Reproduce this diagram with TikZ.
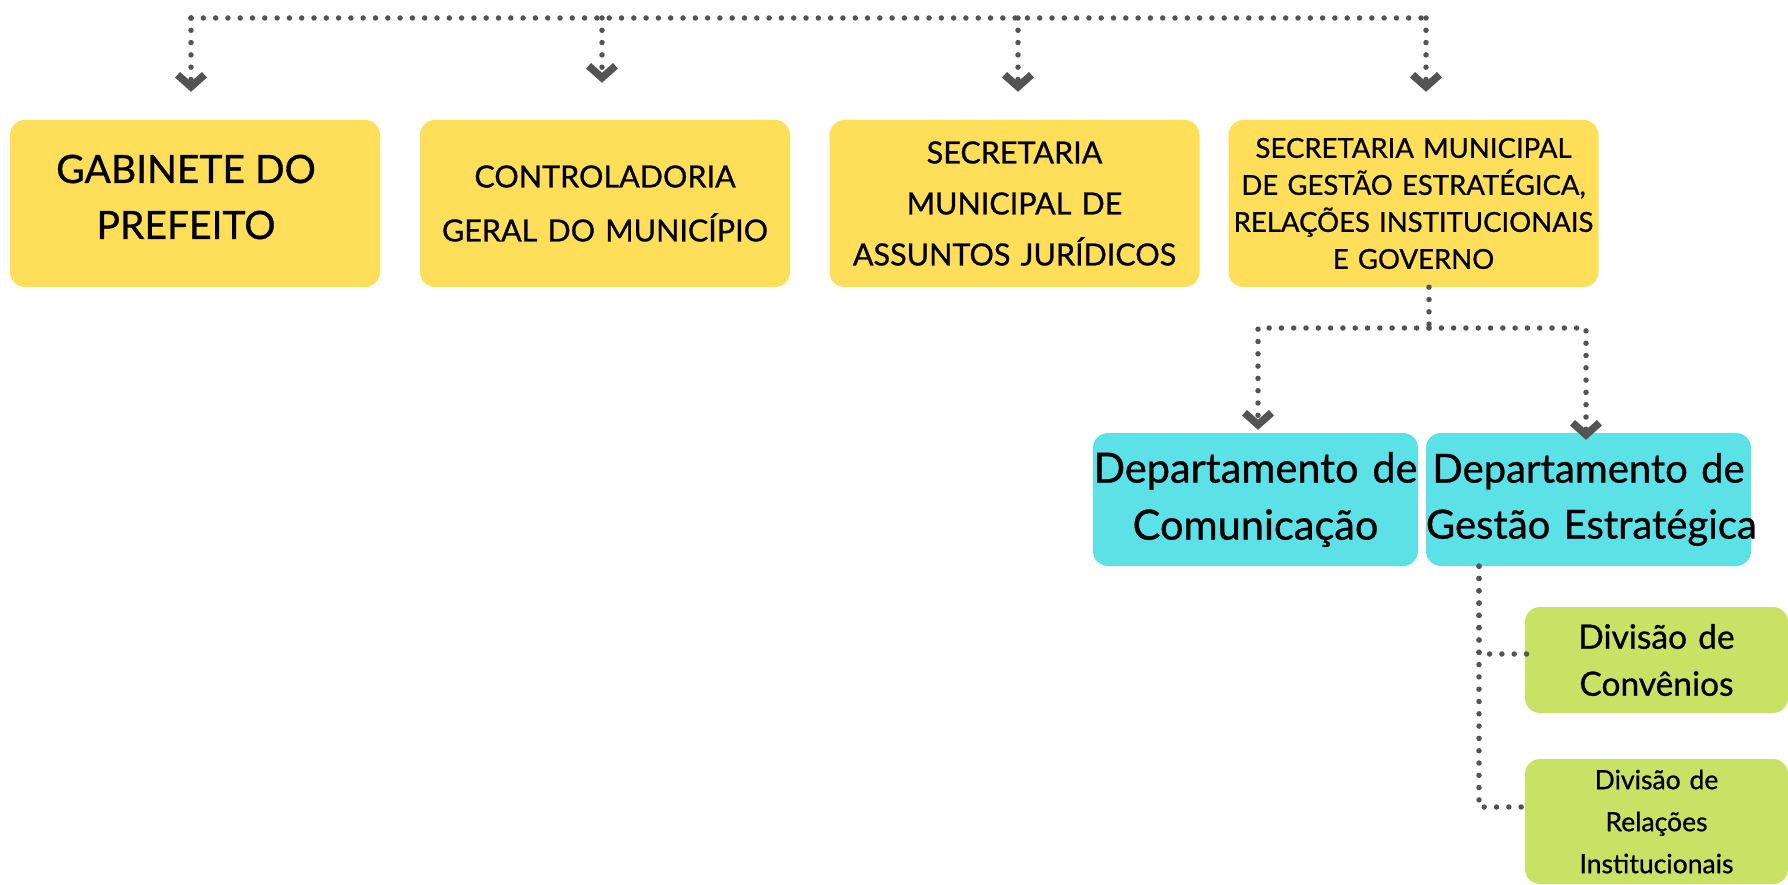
\documentclass[tikz,border=0pt]{standalone}
\usepackage{fontspec}
\setmainfont{Lato}[UprightFeatures={FakeBold=0.8}]
\usepackage{tikz}
\usetikzlibrary{positioning}
\usetikzlibrary{arrows.meta}
\definecolor{secyellow}{HTML}{FFDE59}
\definecolor{depcyan}{HTML}{5CE1E6}
\definecolor{divgreen}{HTML}{C9E265}
\definecolor{linkgray}{HTML}{545454}
\hyphenpenalty=10000

\begin{document}
\begin{tikzpicture}[x=1pt, y=-1pt]
\tikzstyle{every node}=[rounded corners=15pt, inner sep=0pt, align=center]
\tikzstyle{secbox}=[fill=secyellow, minimum width=370pt, minimum height=167pt, text width=370pt]
\tikzstyle{depbox}=[fill=depcyan, minimum width=325pt, minimum height=133pt, text width=325pt]
\tikzstyle{divbox}=[fill=divgreen, minimum width=263pt, text width=263pt]
\tikzstyle{dots}=[draw=linkgray, line width=5.5pt, line cap=round, dash pattern=on 0pt off 12.3pt]
\tikzstyle{chevron}=[-{Straight Barb[length=12pt, width=27pt, line width=7.5pt]}]
\useasboundingbox (0,0) rectangle (1788,885);

% secretarias
\node[secbox] (gab) at (195,203.5) {};
\node[font=\fontsize{39}{56}\selectfont] (gabtxt) at (186,197) {GABINETE DO\\PREFEITO};
\node[secbox, font=\fontsize{30.5}{54}\selectfont] (contr) at (605,203.5) {CONTROLADORIA\\GERAL DO MUNICÍPIO};
\node[secbox, font=\fontsize{30.5}{51}\selectfont] (juri) at (1014.5,203.5) {SECRETARIA\\MUNICIPAL DE\\ASSUNTOS JURÍDICOS};
\node[secbox, font=\fontsize{27.5}{37}\selectfont] (secg) at (1413.5,203.5) {SECRETARIA MUNICIPAL\\DE GESTÃO ESTRATÉGICA,\\RELAÇÕES INSTITUCIONAIS\\E GOVERNO};

% departamentos
\node[depbox, font=\fontsize{41.5}{57}\selectfont] (comun) at (1255.5,499.5) {Departamento de\\Comunicação};
\node[depbox, font=\fontsize{40}{56}\selectfont] (gest) at (1588.5,499.5) {Departamento de\\\mbox{Gestão Estratégica}};

% divisoes
\node[divbox, minimum height=106pt, font=\fontsize{33.5}{47}\selectfont] (conv) at (1656.5,660) {Divisão de\\Convênios};
\node[divbox, minimum height=125pt, font=\fontsize{26.5}{42}\selectfont] (rel) at (1656.5,821.5) {Divisão de\\Relações\\Institucionais};

% ligacoes do topo
\coordinate (bus) at (0,18);
\draw[dots] ([xshift=-4pt]gab.north |- bus) -- ([xshift=12.5pt]secg.north |- bus);
\draw[dots, chevron, shorten >=28pt] ([xshift=-4pt]gab.north |- bus) -- ([xshift=-4pt]gab.north);
\draw[dots, chevron, shorten >=37pt] ([xshift=-3pt]contr.north |- bus) -- ([xshift=-3pt]contr.north);
\draw[dots, chevron, shorten >=28pt] ([xshift=3.5pt]juri.north |- bus) -- ([xshift=3.5pt]juri.north);
\draw[dots, chevron, shorten >=28pt] ([xshift=12.5pt]secg.north |- bus) -- ([xshift=12.5pt]secg.north);

% departamentos da secretaria
\coordinate (split) at (1429,328);
\draw[dots] ([xshift=15.5pt]secg.south) -- (split);
\draw[dots, chevron, shorten >=3pt] (split) -| ([xshift=2.5pt]comun.north);
\draw[dots, chevron, shorten >=-7pt] (split) -| ([xshift=-2.5pt]gest.north);

% divisoes do departamento
\coordinate (trunk) at ([xshift=-109.5pt]gest.south);
\draw[dots] (trunk) |- ([shift={(7pt,6pt)}]conv.west);
\draw[dots] (trunk) |- ([shift={(7pt,14.5pt)}]rel.west);
\end{tikzpicture}
\end{document}
